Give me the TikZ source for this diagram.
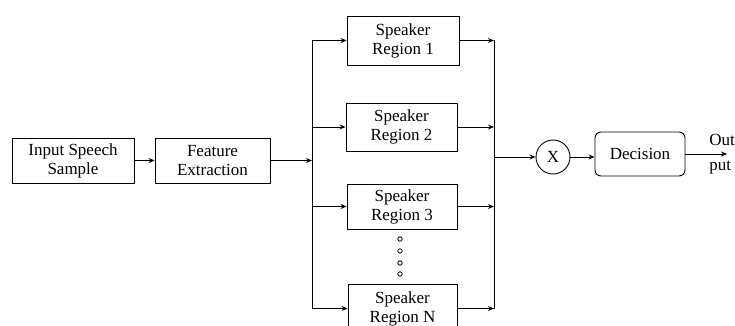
\documentclass[tikz,border=0pt]{standalone}
\usepackage{fontspec}
\setmainfont{Liberation Serif}
\usetikzlibrary{arrows.meta}
\tikzset{blk/.style={draw, align=center, inner sep=0pt, minimum width=111pt, minimum height=48pt}}
\begin{document}
\begin{tikzpicture}[x=1pt, y=-1pt, line join=round, >={Stealth[length=6pt,width=5pt]}, line width=0.9pt, font=\fontsize{17}{19}\selectfont]
\useasboundingbox (0,0) rectangle (735,326);
\node[blk, minimum width=122pt, minimum height=45pt] (inp) at (73,160.5) {Input Speech\\Sample};
\node[blk, minimum width=115pt, minimum height=45pt] (feat) at (212.5,160.5) {Feature\\Extraction};
\node[blk, minimum width=112pt, minimum height=49pt] (r1) at (403,40.5) {Speaker\\Region 1};
\node[blk] (r2) at (401.5,127) {Speaker\\Region 2};
\node[blk, minimum width=110pt, minimum height=45pt] (r3) at (402,206.5) {Speaker\\Region 3};
\node[blk, minimum width=109pt, minimum height=49pt] (rN) at (402.5,308.5) {Speaker\\Region N};
\node[draw, circle, minimum size=34pt, inner sep=0pt] (mul) at (553,157) {X};
\node[blk, rounded corners=6pt, minimum width=90pt, minimum height=44pt] (dec) at (640,154) {Decision};
\coordinate (bl1) at (312,40.5); \coordinate (blN) at (312,308.5);
\coordinate (br1) at (494,40.5); \coordinate (brN) at (494,308.5);
\coordinate (out) at (727,154);
\draw[->] (inp) -- (feat);
\draw[->] (feat.east) -- (feat.east -| bl1);
\draw (bl1) -- (blN);
\foreach \r in {r1,r2,r3,rN}{
\draw[->] (\r.west -| bl1) -- (\r.west);
\draw[->] (\r.east) -- (\r.east -| br1);
}
\draw (br1) -- (brN);
% dots between region 3 and N
\foreach \y in {239,251,263,274}{
\draw[line width=0.8pt] (400,\y) circle (2.2pt);
}
\draw[->] (mul.west -| br1) -- (mul.west);
\draw[->] (mul.east) -- (mul.east -| dec.west);
\draw[->] (dec.east) -- (out);
\node[anchor=base west, inner sep=0pt] (outt) at (709,145) {Out};
\node[anchor=base west, inner sep=0pt] (outb) at (709,170) {put};
\end{tikzpicture}
\end{document}
